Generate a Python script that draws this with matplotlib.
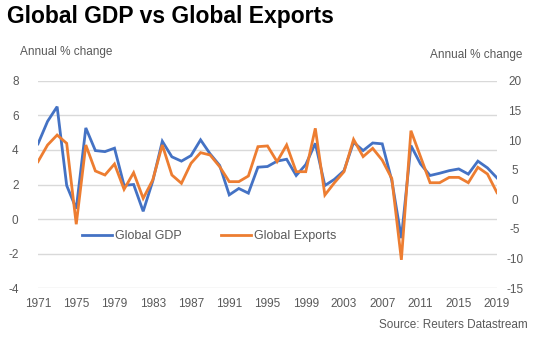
import numpy as np
import matplotlib
matplotlib.use("Agg")
import matplotlib.pyplot as plt

plt.rcParams['font.family'] = ['Liberation Sans', 'DejaVu Sans']
plt.rcParams['axes.unicode_minus'] = False

years = list(range(1971, 2020))

gdp = [4.35, 5.65, 6.5, 1.94, 0.6, 5.27, 3.96, 3.9, 4.1, 1.95,
       2.0, 0.45, 2.2, 4.5, 3.6, 3.35, 3.67, 4.58, 3.77, 3.1,
       1.4, 1.77, 1.5, 3.0, 3.04, 3.35, 3.46, 2.52, 3.15, 4.38,
       1.94, 2.3, 2.8, 4.44, 3.96, 4.4, 4.35, 2.23, -1.1, 4.25,
       3.19, 2.52, 2.65, 2.8, 2.9, 2.6, 3.35, 2.96, 2.38]

exports = [6.35, 9.16, 10.84, 9.44, -4.2, 9.16, 4.78, 4.1, 5.96, 1.69,
           4.49, 0.17, 3.26, 9.16, 4.1, 2.7, 6.07, 7.87, 7.47, 5.5,
           2.98, 2.98, 3.93, 8.88, 9.0, 6.35, 9.16, 4.66, 4.66, 11.97,
           0.73, 2.8, 4.66, 10.1, 7.2, 8.6, 6.6, 3.5, -10.2, 11.57,
           7.2, 2.8, 2.8, 3.7, 3.7, 2.8, 5.4, 4.27, 1.12]

xticks = list(range(1971, 2020, 4))
left_ticks = [-4, -2, 0, 2, 4, 6, 8]
right_ticks = [-15, -10, -5, 0, 5, 10, 15, 20]

blue = "#4472C4"
orange = "#ED7D31"
grey = "#595959"

fig = plt.figure(figsize=(5.34, 3.41), dpi=100)
ax = fig.add_axes([38/534, 1 - 288.3/341, 459/534, 207.6/341])
ax2 = ax.twinx()

l1, = ax.plot(years, gdp, color=blue, lw=2.0, solid_joinstyle='miter', label="Global GDP")
l2, = ax2.plot(years, exports, color=orange, lw=2.0, solid_joinstyle='miter', label="Global Exports")

ax.set_xlim(1971, 2019)
ax.set_ylim(-4, 8)
ax2.set_ylim(-15, 20)
ax.set_xticks(xticks)
ax.set_yticks(left_ticks)
ax2.set_yticks(right_ticks)

ax.grid(axis='y', color="#D9D9D9", lw=1)
ax.grid(axis='x', visible=False)
ax.set_axisbelow(True)

for a in (ax, ax2):
    for s in a.spines.values():
        s.set_visible(False)
    a.tick_params(length=0, labelsize=8.5, labelcolor=grey)

ax.tick_params(axis='y', pad=14)
ax.tick_params(axis='x', pad=7)
ax2.tick_params(axis='y', pad=13)
for t in ax2.get_yticklabels():
    t.set_horizontalalignment('center')

ax.legend(handles=[l1, l2], loc='center', bbox_to_anchor=(0.373, 0.25), ncol=2,
          frameon=False, fontsize=9, handlelength=2.4, handletextpad=0.2,
          columnspacing=3.2, labelcolor=grey)

fig.text(7/534, 1 - 23/341, "Global GDP vs Global Exports", fontsize=16.5,
         fontweight='bold', color='black', ha='left', va='baseline')
fig.text(20/534, 1 - 52/341, "Annual % change", fontsize=8.5, color=grey,
         ha='left', va='center')
fig.text(522/534, 1 - 55/341, "Annual % change", fontsize=8.5, color=grey,
         ha='right', va='center')
fig.text(528/534, 1 - 325/341, "Source: Reuters Datastream", fontsize=8.5,
         color=grey, ha='right', va='center')

fig.savefig("out.png", dpi=100)
